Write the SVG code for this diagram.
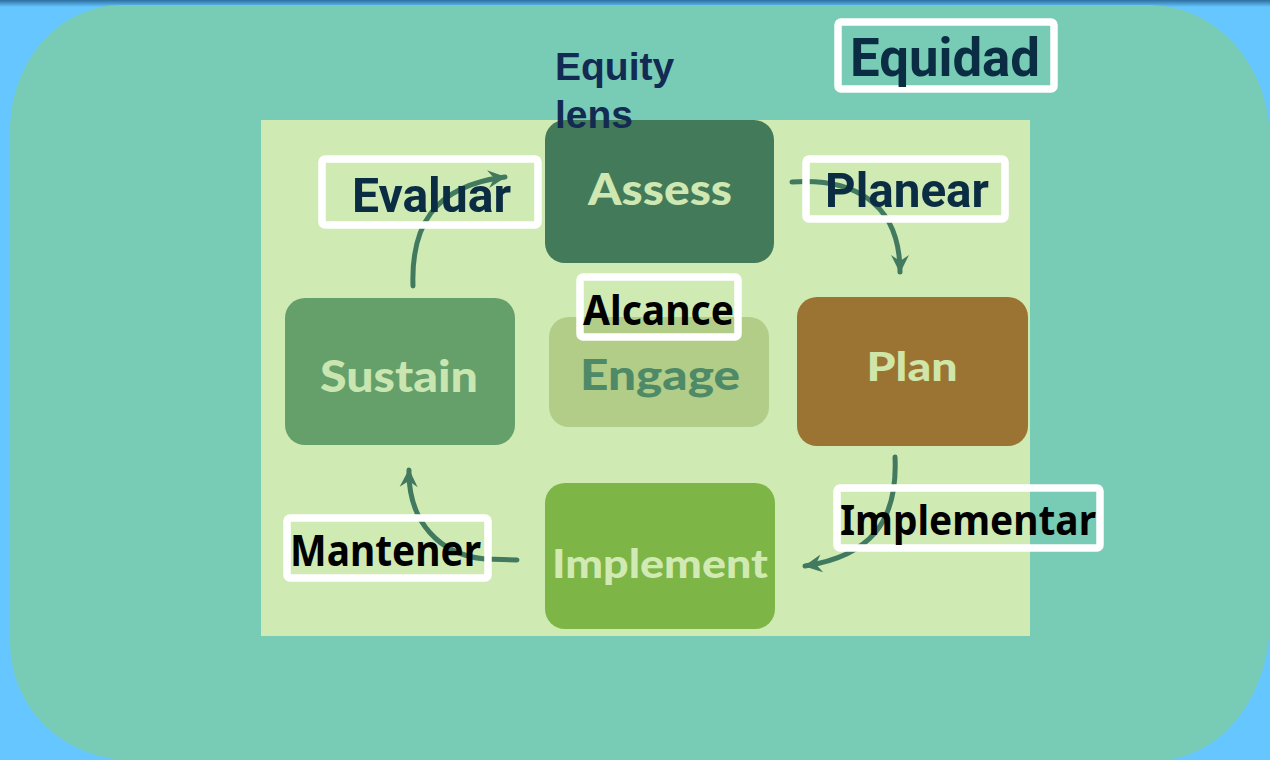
<svg xmlns="http://www.w3.org/2000/svg" width="1270" height="760" viewBox="0 0 1270 760">
  <defs>
    <linearGradient id="topStrip" x1="0" y1="0" x2="0" y2="1">
      <stop offset="0" stop-color="#2c6f9f"/>
      <stop offset="1" stop-color="#66c6ff"/>
    </linearGradient>
    <clipPath id="imgClip">
      <rect x="261" y="120" width="769" height="516"/>
    </clipPath>
    <marker id="head" viewBox="-20 -11 22 22" refX="0" refY="0" markerWidth="22" markerHeight="22" markerUnits="userSpaceOnUse" orient="auto">
      <path d="M1,0 L-17,-9 L-11,0 L-17,9 Z" fill="#427a60"/>
    </marker>
    <style>
      .node-text { font-family: Lato, "Open Sans", "DejaVu Sans", sans-serif; font-weight: 900; text-anchor: middle; }
      .lbl-box { fill: none; stroke: #ffffff; stroke-width: 7.5; rx: 3; }
      .lbl-navy { font-family: Roboto, "Open Sans", sans-serif; font-weight: 700; fill: #0b2d44; }
      .lbl-black { font-family: "Noto Sans", "Open Sans", sans-serif; font-weight: 700; fill: #000000; }
      .conn { fill: none; stroke: #427a60; stroke-width: 5; stroke-linecap: round; marker-end: url(#head); }
    </style>
  </defs>

  <!-- background -->
  <rect x="0" y="0" width="1270" height="760" fill="#66c6ff"/>
  <rect x="0" y="0" width="1270" height="7" fill="url(#topStrip)"/>
  <path d="M121,5 H1150 A120,135 0 0 1 1270,140 V620 A112,140 0 0 1 1158,760 H130 A120,117 0 0 1 10,643 V130 A111,125 0 0 1 121,5 Z" fill="#78cbb5"/>

  <!-- embedded picture area -->
  <rect x="261" y="120" width="769" height="516" fill="#d0eab4"/>

  <g clip-path="url(#imgClip)">
    <g id="node-assess">
      <rect x="545" y="120" width="229" height="143" rx="20" fill="#427a5a"/>
      <text class="node-text" x="660" y="205" font-size="44" fill="#cfe8b2" textLength="144" lengthAdjust="spacingAndGlyphs">Assess</text>
    </g>
    <g id="node-sustain">
      <rect x="285" y="298" width="230" height="147" rx="20" fill="#659f6a"/>
      <text class="node-text" x="399" y="392" font-size="43" fill="#c9e6b1" textLength="158" lengthAdjust="spacingAndGlyphs">Sustain</text>
    </g>
    <g id="node-engage">
      <rect x="549" y="317" width="220" height="110" rx="20" fill="#b1cd87"/>
      <text class="node-text" x="660" y="390" font-size="42" fill="#4f8a68" textLength="160" lengthAdjust="spacingAndGlyphs">Engage</text>
    </g>
    <g id="node-plan">
      <rect x="797" y="297" width="231" height="149" rx="20" fill="#9b7434"/>
      <text class="node-text" x="912" y="381" font-size="39" fill="#cfe6a8" textLength="91" lengthAdjust="spacingAndGlyphs">Plan</text>
    </g>
    <g id="node-implement">
      <rect x="545" y="483" width="230" height="146" rx="20" fill="#7db547"/>
      <text class="node-text" x="660" y="578" font-size="39" fill="#d1e9b2" textLength="216" lengthAdjust="spacingAndGlyphs">Implement</text>
    </g>

    <g id="connectors">
      <path class="conn" d="M413,286 C411,228 432,186 505,177"/>
      <path class="conn" d="M792,182 C850,178 900,200 900,272"/>
      <path class="conn" d="M895,457 C898,522 870,556 805,566"/>
      <path class="conn" d="M517,560 L485,559 C440,555 408,522 409,470"/>
    </g>
  </g>

  <g id="label-equity-lens">
    <text font-family="'Liberation Sans', Arial, sans-serif" font-weight="700" font-size="39" fill="#132a52">
      <tspan x="555" y="80">Equity</tspan>
      <tspan x="555" y="128">lens</tspan>
    </text>
  </g>

  <g id="label-equidad">
    <rect class="lbl-box" x="838" y="22" width="216" height="67"/>
    <text class="lbl-navy" x="850" y="76" font-size="54" textLength="190" lengthAdjust="spacingAndGlyphs">Equidad</text>
  </g>

  <g id="label-evaluar">
    <rect class="lbl-box" x="322" y="159" width="216" height="66"/>
    <text class="lbl-navy" x="352" y="212" font-size="49" textLength="159" lengthAdjust="spacingAndGlyphs" font-family="'Open Sans', sans-serif">Evaluar</text>
  </g>

  <g id="label-planear">
    <rect class="lbl-box" x="806" y="159" width="199" height="60"/>
    <text class="lbl-navy" x="825" y="207" font-size="49" textLength="164" lengthAdjust="spacingAndGlyphs">Planear</text>
  </g>

  <g id="label-alcance">
    <rect class="lbl-box" x="580" y="277" width="158" height="60"/>
    <text class="lbl-black" x="583" y="325" font-size="42" textLength="151" lengthAdjust="spacingAndGlyphs">Alcance</text>
  </g>

  <g id="label-mantener">
    <rect class="lbl-box" x="287" y="518" width="201" height="60"/>
    <text class="lbl-black" x="290" y="566" font-size="43" textLength="191" lengthAdjust="spacingAndGlyphs">Mantener</text>
  </g>

  <g id="label-implementar">
    <rect class="lbl-box" x="837" y="488" width="263" height="60"/>
    <text class="lbl-black" x="840" y="535" font-size="42" textLength="256" lengthAdjust="spacingAndGlyphs">Implementar</text>
  </g>
</svg>
